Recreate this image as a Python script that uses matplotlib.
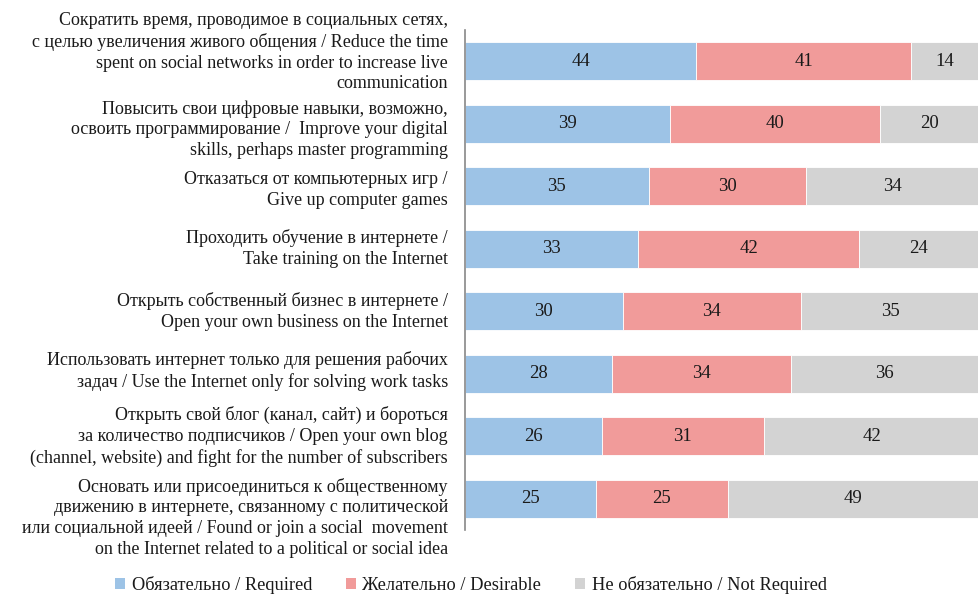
import matplotlib
matplotlib.use("Agg")
import matplotlib.pyplot as plt
from matplotlib.patches import Patch
import matplotlib.transforms as mtransforms

plt.rcParams['font.family'] = ['Liberation Serif', 'DejaVu Serif']

categories = [
    "Сократить время, проводимое в социальных сетях,\nс целью увеличения живого общения / Reduce the time\nspent on social networks in order to increase live\ncommunication",
    "Повысить свои цифровые навыки, возможно,\nосвоить программирование /  Improve your digital\nskills, perhaps master programming",
    "Отказаться от компьютерных игр /\nGive up computer games",
    "Проходить обучение в интернете /\nTake training on the Internet",
    "Открыть собственный бизнес в интернете /\nOpen your own business on the Internet",
    "Использовать интернет только для решения рабочих\nзадач / Use the Internet only for solving work tasks",
    "Открыть свой блог (канал, сайт) и бороться\nза количество подписчиков / Open your own blog\n(channel, website) and fight for the number of subscribers",
    "Основать или присоединиться к общественному\nдвижению в интернете, связанному с политической\nили социальной идеей / Found or join a social  movement\non the Internet related to a political or social idea",
]
required = [44, 39, 35, 33, 30, 28, 26, 25]
desirable = [41, 40, 30, 42, 34, 34, 31, 25]
not_required = [14, 20, 34, 24, 35, 36, 42, 49]
series_names = ["Обязательно / Required", "Желательно / Desirable", "Не обязательно / Not Required"]
colors = ["#9DC3E6", "#F19B9A", "#D3D3D3"]

# vertical shift of each category label relative to its bar (pixels, + = down)
label_shift_px = [-9, 6, 4, 0, 0, -3, 0, 19]

fig = plt.figure(figsize=(9.79, 5.94), dpi=100)
left = 465 / 979
px_per_unit = 5.25
right_units = (979 - 465) / px_per_unit
ax = fig.add_axes([left, 1 - 530 / 594, 1 - left, (530 - 30) / 594])

y = list(range(len(categories)))
lefts = [0] * len(categories)
for vals, col, name in zip([required, desirable, not_required], colors, series_names):
    bars = ax.barh(y, vals, left=lefts, height=0.61, color=col, edgecolor='white', linewidth=0.6, label=name)
    ax.bar_label(bars, labels=[str(v) for v in vals], label_type='center', fontsize=13.5, color='#1a1a1a')
    lefts = [a + b for a, b in zip(lefts, vals)]

ax.set_xlim(0, right_units)
ax.set_ylim(len(categories) - 0.5, -0.5)
ax.set_yticks([])
ax.set_xticks([])
for s in ['top', 'right', 'bottom']:
    ax.spines[s].set_visible(False)
ax.spines['left'].set_color('#888888')
ax.spines['left'].set_linewidth(1.2)

base = ax.get_yaxis_transform()
for yi, lab, sh in zip(y, categories, label_shift_px):
    tr = mtransforms.offset_copy(base, fig=fig, x=-17, y=-sh, units='dots')
    ax.text(0, yi, lab, transform=tr, ha='right', va='center', multialignment='right',
            fontsize=13, linespacing=1.28, color='#1a1a1a', clip_on=False)

handles = [Patch(facecolor=c, edgecolor='none') for c in colors]
fig.legend(handles, series_names, loc='lower center', bbox_to_anchor=(0.481, -0.028), ncol=3,
           frameon=False, fontsize=13.2, handlelength=0.55, handleheight=0.55,
           handletextpad=0.35, columnspacing=1.85, labelcolor='#1a1a1a')

fig.savefig("out.png", dpi=100)
